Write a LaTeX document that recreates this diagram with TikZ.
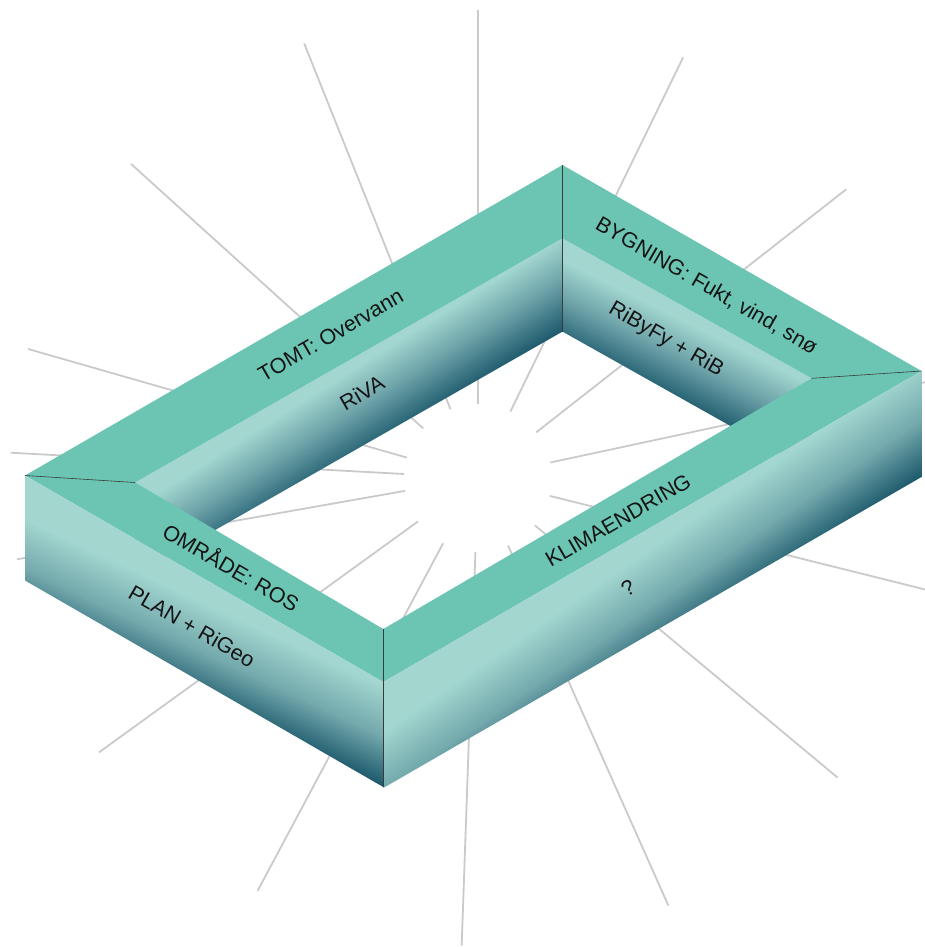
\documentclass[tikz,border=0pt]{standalone}
\usepackage{fontspec}
\setmainfont{Liberation Sans}
\usetikzlibrary{calc}
\definecolor{topteal}{HTML}{6CC5B3}
\definecolor{walllight}{HTML}{A2D6CF}
\definecolor{wallmid}{HTML}{74A9AD}
\definecolor{innermid}{HTML}{6FA4AA}
\definecolor{walldark}{HTML}{1B586B}
\definecolor{raygray}{HTML}{CACACA}
\definecolor{edgegray}{HTML}{3A3A3A}
\pgfdeclareverticalshading{outershade}{100bp}{color(0bp)=(walldark); color(25bp)=(walldark); color(42.5bp)=(wallmid); color(60bp)=(walllight); color(100bp)=(walllight)}
\pgfdeclareverticalshading{innershade}{100bp}{color(0bp)=(walldark); color(25bp)=(walldark); color(47.5bp)=(innermid); color(65bp)=(walllight); color(100bp)=(walllight)}
% wall face: top edge (x0,y0)-(x1,y1) in screen pixels, height h, shading, slant of the shading
\newcommand{\wallface}[7]{%
  \pgfmathsetmacro{\wk}{(#4-#2)/(#3-#1)}%
  \pgfmathsetmacro{\wL}{#3-#1}%
  \pgfmathsetmacro{\wH}{#5+#7*\wL}%
  \pgfmathsetmacro{\ws}{-(\wk-#7)}%
  \begin{scope}
    \clip (#1,-#2) -- (#3,-#4) -- (#3,-#4-#5) -- (#1,-#2-#5) -- cycle;
    \begin{scope}[transform canvas={shift={(#1,-#2)}, yslant=\ws}]
      \shade[shading=#6] (0,-\wH) rectangle (\wL,0);
    \end{scope}
  \end{scope}}
\begin{document}
\begin{tikzpicture}[x=1pt,y=1pt,
  ray/.style={draw=raygray, line width=1.8pt},
  edgeline/.style={draw=edgegray, line width=0.6pt},
  lbl/.style={font=\fontsize{21.5}{24}\selectfont, text=black!92, inner sep=0pt, text height=15.4pt, text depth=0pt}]
\useasboundingbox (0,0) rectangle (925,-947);
\clip (0,0) rectangle (925,-947);
% key points
\coordinate (C) at (478,-478);
\coordinate (L) at (25,-475.5);
\coordinate (T) at (562.5,-165);
\coordinate (R) at (921.5,-371);
\coordinate (F) at (383.3,-682);
\coordinate (IL) at (135,-482.5);
\coordinate (IT) at (562.5,-238.3);
\coordinate (IR) at (811.7,-378.3);
\coordinate (IF) at (383.3,-629);
\coordinate (ITb) at (562.5,-331.6);
\coordinate (Fb) at (383.3,-787);
% rays
\foreach \a in {90,111.8,137.85,164,176.9,190,215.9,241.9,268,294,320.2,346,12.1,38.1,64}
  \draw[ray] (C) ++(\a:74) -- ++(\a:394);
% inner walls
\wallface{135}{482.5}{562.5}{238.3}{93.3}{innershade}{0.06}
\wallface{562.5}{238.3}{811.7}{378.3}{93.3}{innershade}{0.06}
% top face ring
\fill[topteal, even odd rule] (L) -- (T) -- (R) -- (F) -- cycle (IL) -- (IT) -- (IR) -- (IF) -- cycle;
% outer walls
\wallface{25}{475.5}{383.3}{682}{105}{outershade}{0.11}
\wallface{383.3}{682}{921.5}{371}{106}{outershade}{0.11}
% edges
\draw[edgeline] (L) -- (IL);
\draw[edgeline] (R) -- (IR);
\draw[edgeline] (T) -- (ITb);
\draw[edgeline] (IF) -- (Fb);
% labels
\node[lbl, rotate=30] (tomt) at (330.5,-335) {TOMT: Overvann};
\node[lbl, rotate=30] (riva) at (362,-393) {RiVA};
\node[lbl, rotate=-30] (bygning) at (707,-285) {BYGNING: Fukt, vind, snø};
\node[lbl, rotate=-30] (ribyfy) at (667,-338) {RiByFy + RiB};
\node[lbl, rotate=-30] (omraade) at (231,-568) {OMRÅDE: ROS};
\node[lbl, rotate=-30] (plan) at (192,-626) {PLAN + RiGeo};
\node[lbl, rotate=30] (klima) at (618,-520) {KLIMAENDRING};
\node[lbl, rotate=30] (q) at (628,-588) {?};
\end{tikzpicture}
\end{document}
